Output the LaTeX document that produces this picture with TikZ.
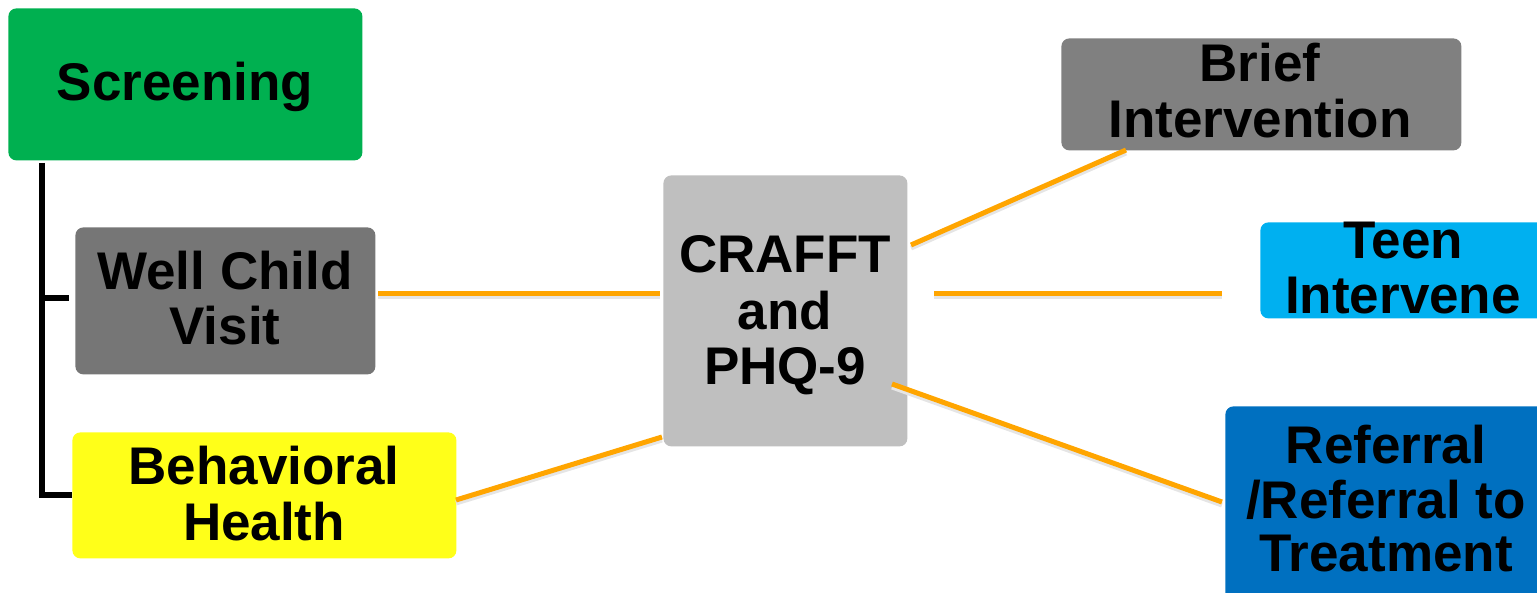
\documentclass[tikz,border=0pt]{standalone}
\usepackage{fontspec}
\setmainfont{Liberation Sans}
\usetikzlibrary{calc}
\definecolor{cGreen}{HTML}{00B050}
\definecolor{cWell}{HTML}{767676}
\definecolor{cYellow}{HTML}{FFFF19}
\definecolor{cCraft}{HTML}{BFBFBF}
\definecolor{cBrief}{HTML}{808080}
\definecolor{cTeen}{HTML}{00B0F0}
\definecolor{cRef}{HTML}{0070C0}
\definecolor{cOrange}{HTML}{FFA500}
\begin{document}
\begin{tikzpicture}[x=0.5pt,y=-0.5pt,
  box/.style={rectangle,rounded corners=4pt,draw=none,inner sep=0pt,anchor=north west},
  lbl/.style={inner sep=0pt,anchor=base,font=\fontsize{26.5}{27.5}\selectfont\bfseries},
  link/.style={draw=cOrange,line width=2.5pt},
  linkshadow/.style={draw=black!10,line width=2.5pt,transform canvas={yshift=-1.5pt}},
  bracket/.style={draw=black,line width=2.7pt}]
\useasboundingbox (0,0) rectangle (1537,593);
\clip (0,0) rectangle (1537,593);
% boxes
\node[box,fill=cGreen,minimum width=177pt,minimum height=76pt] (scr) at (8,8) {};
\node[box,fill=cWell,minimum width=150pt,minimum height=73.5pt] (wcv) at (75,227) {};
\node[box,fill=cYellow,minimum width=192pt,minimum height=63pt] (bh) at (72,432) {};
\node[box,fill=cCraft,minimum width=122pt,minimum height=135.5pt] (cr) at (663,175) {};
\node[box,fill=cBrief,minimum width=200pt,minimum height=56pt] (bi) at (1061,38) {};
\node[box,fill=cTeen,minimum width=150pt,minimum height=48pt] (ti) at (1260,222) {};
\node[box,fill=cRef,minimum width=170pt,minimum height=100pt] (rt) at (1225,406) {};
% texts
\node[lbl] (scrT) at (185,101) {Screening};
\node[lbl] (wcvA) at (225,290) {Well Child};
\node[lbl] (wcvB) at (225,344) {Visit};
\node[lbl] (bhA) at (264,484) {Behavioral};
\node[lbl] (bhB) at (264,540) {Health};
\node[lbl] (crA) at (785,273) {CRAFFT};
\node[lbl] (crB) at (785,329) {and};
\node[lbl] (crC) at (785,384) {PHQ-9};
\node[lbl] (biA) at (1260,82) {Brief};
\node[lbl] (biB) at (1260,138) {Intervention};
\node[lbl] (tiA) at (1403,259) {Teen};
\node[lbl] (tiB) at (1403,314) {Intervene};
\node[lbl] (rtA) at (1386,463) {Referral};
\node[lbl] (rtB) at (1386,518) {/Referral to};
\node[lbl] (rtC) at (1386,571) {Treatment};
% bracket
\coordinate (bTop) at (42,163);
\coordinate (bMid) at (69,298);
\coordinate (bBot) at (72,495);
\draw[bracket] (bTop) |- (bBot);
\draw[bracket] (bTop |- bMid) -- (bMid);
% orange connectors
\coordinate (wcvE) at (378,294);
\coordinate (crW1) at (660,294);
\coordinate (bhE) at (456,500);
\coordinate (crW2) at (662,437);
\coordinate (crE1) at (911,245);
\coordinate (biS) at (1126,150);
\coordinate (crE2) at (934,294);
\coordinate (tiW) at (1222,294);
\coordinate (crE3) at (892,384);
\coordinate (rtW) at (1222,502);
\foreach \a/\b in {wcvE/crW1,bhE/crW2,crE1/biS,crE2/tiW,crE3/rtW}{
  \draw[linkshadow] (\a) -- (\b);
}
\draw[link] (wcvE) -- (crW1);
\draw[link] (bhE) -- (crW2);
\draw[link] (crE1) -- (biS);
\draw[link] (crE2) -- (tiW);
\draw[link] (crE3) -- (rtW);
\end{tikzpicture}
\end{document}
